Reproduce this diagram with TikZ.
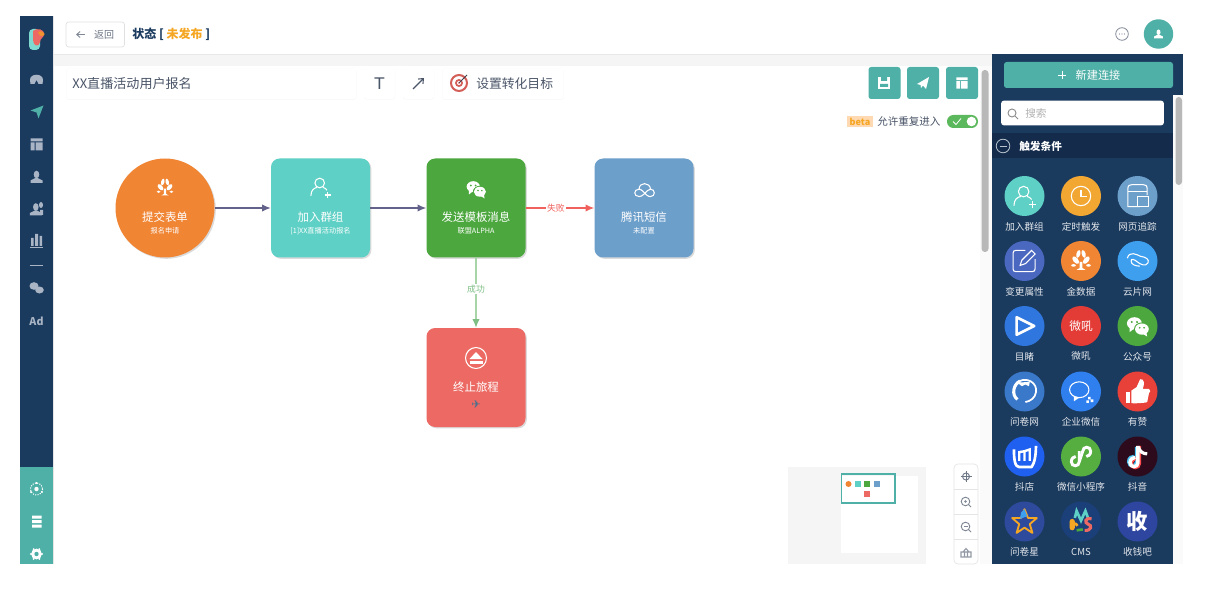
\documentclass[tikz,border=0pt]{standalone}
\usepackage{fontspec}
\setmainfont{Noto Sans CJK SC}
\newfontfamily\djv{DejaVu Sans}
\usetikzlibrary{shadows,arrows.meta,calc}
\definecolor{navy}{HTML}{1A3A5E}
\definecolor{navyd}{HTML}{142B4B}
\definecolor{tealb}{HTML}{4FB0A7}
\definecolor{navic}{HTML}{A9B5C5}
\definecolor{orangeN}{HTML}{F08534}
\definecolor{orangeT}{HTML}{F5A623}
\definecolor{tealN}{HTML}{5ED0C5}
\definecolor{greenN}{HTML}{4CA83E}
\definecolor{blueN}{HTML}{6D9FCB}
\definecolor{redN}{HTML}{EC6A63}
\definecolor{txt}{HTML}{4A5568}
\definecolor{flowc}{HTML}{62628A}
\definecolor{failc}{HTML}{F0605C}
\definecolor{okl}{HTML}{A8D5A8}
\definecolor{okc}{HTML}{7FBF85}
\definecolor{togg}{HTML}{5CB85C}
\definecolor{aB}{HTML}{F2A732}
\definecolor{aD}{HTML}{4A68C0}
\definecolor{aF}{HTML}{3F9FEF}
\definecolor{aG}{HTML}{2F76DE}
\definecolor{aH}{HTML}{E33B35}
\definecolor{aJ}{HTML}{3A78C9}
\definecolor{aK}{HTML}{2F7FEF}
\definecolor{aL}{HTML}{E8413A}
\definecolor{aM}{HTML}{1F60F0}
\definecolor{aN}{HTML}{55AE3F}
\definecolor{aO}{HTML}{2D0A1C}
\definecolor{aP}{HTML}{2E4A9C}
\definecolor{aQ}{HTML}{1B3F78}
\definecolor{aR}{HTML}{2F46A0}
\newcommand{\fs}[1]{\fontsize{#1}{#1}\selectfont}
\tikzset{
 x=0.75pt,y=-0.75pt,
 wl/.style={draw=white,line width=.8pt,fill=none},
 wf/.style={fill=white,draw=none},
 flownode/.style={minimum size=74.25pt,inner sep=0,draw=none,rounded corners=6.5pt,drop shadow={shadow xshift=1pt,shadow yshift=-1pt,opacity=.14,fill=black}},
 flowtitle/.style={text=white,font=\fs{8.6},inner sep=0},
 flowsub/.style={text=white,font=\fs{5.4},inner sep=0},
 card/.style={fill=white,draw=none,rounded corners=2pt,drop shadow={shadow xshift=0pt,shadow yshift=-.3pt,opacity=.05,fill=black}},
 tealbtn/.style={fill=tealb,draw=none,rounded corners=2pt},
 appdisc/.style={circle,minimum size=30pt,inner sep=0,draw=none},
 applabel/.style={text=white!88!navy,font=\fs{7.2},inner sep=0},
 flow/.style={line width=.9pt,-{Latex[length=6.5pt,width=5.5pt]}},
 pics/personplus/.style={code={
   \draw[wl] (-1,-5) circle (6);
   \draw[wl] (-12,11) .. controls (-12,4) and (-8,1) .. (-4,0.5);
   \draw[wl] (3,.5) .. controls (5,1) and (7,2) .. (8,4);
   \draw[wl] (5,10)--(13,10) (9,6)--(9,14);}},
 pics/tree/.style={code={
   \fill[white] (-1.5,1) -- (1.5,1) -- (1.5,8) -- (5,10) -- (-5,10) -- (-1.5,8) -- cycle;
   \fill[white,rotate around={-50:(-6,-1)}] (-6,-1) ellipse (5 and 2.8);
   \fill[white,rotate around={50:(6,-1)}] (6,-1) ellipse (5 and 2.8);
   \fill[white,rotate around={75:(-3,-8)}] (-3,-8) ellipse (4.5 and 2.2);
   \fill[white,rotate around={-75:(3,-8)}] (3,-8) ellipse (4.5 and 2.2);
   \fill[white] (-8.5,5) ellipse (2.6 and 1.5) (8.5,5) ellipse (2.6 and 1.5);}},
 pics/wechatic/.style={code={
   \fill[white] (-3.5,-3) ellipse (8.5 and 7);
   \fill[white] (-9,1) -- (-9,7) -- (-4,3) -- cycle;
   \fill[#1] (5,3.5) ellipse (9 and 7.6);
   \fill[white] (5,3.5) ellipse (7.8 and 6.4);
   \fill[white] (10,7) -- (11,12) -- (6,9) -- cycle;
   \fill[#1] (-6.5,-4.5) circle (1.3) (-.5,-4.5) circle (1.3) (2.5,2) circle (1.1) (7.5,2) circle (1.1);}},
 pics/cloudic/.style={code={
   \draw[wl] (-6,8) .. controls (-13,8) and (-13,-1) .. (-6,-1) .. controls (-3,-1) and (0,3) .. (3,6) .. controls (5,8) and (7,8) .. (8,8) .. controls (14,8) and (14,-1) .. (8,-1) .. controls (5,-1) and (3,2) .. (0,5) .. controls (-2,7) and (-4,8) .. (-6,8) -- cycle;
   \draw[wl] (-6,-1) .. controls (-6,-10) and (7,-10) .. (8,-1);}},
 pics/ejectic/.style={code={
   \draw[wl] (0,0) circle (10.5);
   \fill[white] (0,-6) -- (6.5,1) -- (-6.5,1) -- cycle;
   \fill[white] (-6.5,3) rectangle (6.5,5.5);}},
 pics/clockic/.style={code={
   \draw[wl] (0,0) circle (11);
   \draw[wl] (0,-7) -- (0,1) -- (7,1);}},
 pics/webic/.style={code={
   \draw[wl] (3,12) -- (-11,12) -- (-11,-8) .. controls (-11,-12) and (-9,-13) .. (-6,-13) -- (6,-13) .. controls (9,-13) and (11,-12) .. (11,-8) -- (11,-1);
   \draw[wl] (-11,-5) -- (11,-5);
   \draw[wl] (0,1) rectangle (12,12);}},
 pics/editic/.style={code={
   \draw[wl] (1,-12) -- (-10,-12) .. controls (-12,-12) and (-13,-11) .. (-13,-9) -- (-13,9) .. controls (-13,11) and (-12,12) .. (-10,12) -- (9,12) .. controls (11,12) and (12,11) .. (12,9) -- (12,-2);
   \draw[wl] (-5,5) -- (-3,-1) -- (8,-12) -- (12,-8) -- (1,3) -- cycle;}},
 pics/linkic/.style={code={
   \draw[wl,rotate=-15] (-12,0) .. controls (-12,-9) and (-3,-7) .. (2,-6) .. controls (8,-7) and (13,-5) .. (12,-1) .. controls (11,4) and (4,3) .. (0,1) .. controls (-4,-1) and (-8,-1) .. (-7,2) .. controls (-6,6) and (0,6) .. (4,5);}},
 pics/playic/.style={code={
   \draw[draw=white,line width=2pt,line join=round] (-9,-10) -- (11,0) -- (-9,10) -- cycle;}},
 pics/wjic/.style={code={
   \draw[draw=white,line width=2.3pt] (-5,-12) .. controls (-13,-8) and (-15,4) .. (-8,9);
   \draw[draw=white,line width=1.3pt] (-5,-12) .. controls (3,-16) and (15,-10) .. (13,1) .. controls (12,7) and (7,11) .. (1,12);
   \fill[white] (-8,-10) -- (6,-11) -- (5,-6) -- (1,-8) -- (-3,-6) -- cycle;}},
 pics/qwic/.style={code={
   \draw[wl] (-2,-2) ellipse (11 and 9);
   \fill[white] (-8,5) -- (-8,11) -- (-2,7) -- cycle;
   \fill[white] (8,6) rectangle +(3,3) (11,9) rectangle +(3,3) (6,10) rectangle +(3,3);}},
 pics/thumbic/.style={code={
   \fill[white] (-13,0) rectangle (-9,13);
   \fill[white] (-7,-1) -- (-1,-5) -- (3,-14) .. controls (8,-15) and (8,-8) .. (6,-3) -- (13,-3) .. controls (15,-2) and (15,1) .. (13,2) -- (11,12) .. controls (10,13) and (-7,14) .. (-7,13) -- cycle;}},
 pics/douic/.style={code={
   \draw[draw=white,line width=2pt,line join=round] (-12,-8) .. controls (-12,3) and (-11,12) .. (-6,12) -- (8,12) .. controls (11,8) and (13,0) .. (13,-12);
   \draw[draw=white,line width=1.8pt] (-6,5) -- (-6,-5) -- (0,-6) -- (0,5) (0,-6) -- (6,-8) -- (6,5);}},
 pics/miniic/.style={code={
   \draw[draw=white,line width=2.2pt] (-2,-6) -- (-2,6) .. controls (-2,12) and (-11,12) .. (-11,6) .. controls (-11,2) and (-8,0) .. (-6,0);
   \draw[draw=white,line width=2.2pt] (-2,6) -- (2,-6) .. controls (2,-12) and (11,-12) .. (11,-6) .. controls (11,-2) and (8,0) .. (6,0);}},
 pics/tiktok/.style={code={
   \draw[draw=cyan!70!white,line width=2.6pt] (-1,-11) -- (-1,6) .. controls (-1,12) and (-10,12) .. (-10,6) .. controls (-10,1) and (-6,0) .. (-4,0);
   \draw[draw=red!70!white,line width=2.6pt] (2,-12) -- (2,8) .. controls (2,14) and (-7,14) .. (-7,8) .. controls (-7,4) and (-3,2) .. (-1,2);
   \draw[draw=white,line width=2.6pt] (.5,-12) -- (.5,7) .. controls (.5,13) and (-8.5,13) .. (-8.5,7) .. controls (-8.5,2.5) and (-4.5,1) .. (-2.5,1);
   \draw[draw=white,line width=2.4pt] (1,-11) .. controls (2,-6) and (6,-3) .. (11,-3);}},
 pics/staric/.style={code={
   \draw[draw=orangeT,line width=1.4pt,line join=round] (0,-14) -- (4,-4) -- (14,-4) -- (6,3) -- (9,13) -- (0,7) -- (-9,13) -- (-6,3) -- (-14,-4) -- (-4,-4) -- cycle;
   \fill[aF] (-4,-10) -- (0,-14) -- (3,-6) -- (-5,-3) -- cycle;}},
 pics/cmsic/.style={code={
   \fill[orangeT,rounded corners=2pt] (-13,10) rectangle (-7,-3);
   \draw[draw=tealN,line width=2pt] (-7,-4) -- (-5,-12) -- (0,-1) -- (5,-12) -- (8,-4);
   \draw[draw=orangeT,line width=2pt] (-4,5) .. controls (-6,1) and (-9,2) .. (-9,6);
   \draw[draw=redN,line width=2.3pt] (12,-3) .. controls (4,-5) and (4,2) .. (8,3) .. controls (13,4) and (12,11) .. (4,10);
   \draw[draw=greenN,line width=2pt] (-5,10) -- (2,9);}},
 pics/navdash/.style={code={
   \fill[navic] (-6,4) -- (-6.5,0) .. controls (-6.5,-7) and (6.5,-7) .. (6.5,0) -- (6,4) -- (2,4) -- (0,0) -- (-2,4) -- cycle;}},
 pics/navplane/.style={code={
   \fill[tealb] (-6,-1) -- (7,-6) -- (2,7) -- (0,1) -- cycle;}},
 pics/navtable/.style={code={
   \fill[#1] (-6,-6) rectangle (6,-3) (-6,-2) rectangle (-2,6) (-1,-2) rectangle (6,6);}},
 pics/navperson/.style={code={
   \fill[#1] (0,-2.5) ellipse (2.8 and 3.8);
   \fill[#1] (-6,6) -- (-6,3.5) .. controls (-4,2) and (-2,2) .. (-1,1) -- (1,1) .. controls (2,2) and (4,2) .. (6,3.5) -- (6,6) -- cycle;}},
}
\newcommand{\appicon}[7]{%
 \node[appdisc,fill=#4] (#1) at (#2,#3) {};
 \pic[scale=.88] at (#2,#3) {#5};
 \node[applabel] (#1t) at (#2,#3+30.5) {#6#7};}
\begin{document}
\begin{tikzpicture}
\useasboundingbox (0,0) rectangle (1209,602);
\fill[white] (0,0) rectangle (1209,602);
% header band, canvas
\fill[black!4] (53,54) rectangle (992,66);
\draw[black!9,line width=.6pt] (53,54) -- (992,54);
\fill[black!2] (980,66) rectangle (992,564);
\fill[black!28,rounded corners=2.5pt] (981.5,70) rectangle (988.5,252);
% left navigation
\fill[navy] (20,16) rectangle (52.5,467);
\fill[tealb] (20,467) rectangle (52.5,564);
\fill[black!10] (52.5,16) rectangle (53.5,564);
\fill[tealN!80!white,rounded corners=3pt] (29,29) rectangle (40,50);
\fill[redN] (33,31) .. controls (37,27) and (45,30) .. (44,34) .. controls (44,38) and (40,38) .. (40,42) .. controls (39,48) and (33,46) .. (33,40) -- cycle;
\fill[orangeN!90!yellow] (38,32) .. controls (42,30) and (45,33) .. (44.5,35) .. controls (42,37) and (39,36) .. (38,32) -- cycle;
\pic at (36.5,80) {navdash};
\pic at (36.5,111.5) {navplane};
\pic at (36.5,144.5) {navtable=navic};
\pic at (36.5,177) {navperson=navic};
\pic[xshift=-.5pt] at (36.5,209.5) {navperson=navic};
\fill[navic] (41,205) ellipse (2 and 3) (40,210) rectangle (43,215);
\fill[navic] (31,238) rectangle (33.5,246) (35,234) rectangle (38,246) (39.5,236) rectangle (42,246);
\fill[navic] (30,247) rectangle (43,248);
\draw[navic,line width=.6pt] (30,265) -- (43,265);
\fill[navic] (34,286) ellipse (4.5 and 3.8);
\fill[navic] (39.5,290) ellipse (4.3 and 3.5);
\node[text=navic,font=\fs{8}\bfseries,inner sep=0] (navad) at (36.5,321) {Ad};
\draw[white,line width=.8pt,densely dotted] (36.5,489) circle (6);
\fill[white] (36.5,489) circle (2.2) (31,492) circle (1.2) (42,492) circle (1.2) (36.5,483) circle (1.1);
\fill[white] (32,515.5) rectangle (41.5,518.5) (32,520) rectangle (41.5,523) (32,524.5) rectangle (41.5,527.5);
\fill[white] (36.5,554) circle (5.4);
\foreach \a in {0,60,...,300}{\fill[white] (36.5,554) ++(\a:5.6) circle (1.1);}
\fill[tealb] (36.5,554) circle (2.2);
% top bar
\draw[black!12,rounded corners=2pt,fill=white,line width=.5pt] (66,22) rectangle (124.5,47);
\draw[txt!70,line width=.7pt,-{Straight Barb[length=2.6pt,width=4.5pt]}] (85,34.5) -- (76,34.5);
\node[text=txt!80,font=\fs{7.5},inner sep=0] (backt) at (104,34.5) {返回};
\node[anchor=west,font=\fs{9}\bfseries,inner sep=0,text=navy] (statet) at (132,34.5) {状态 [ \textcolor{orangeT}{未发布} ]};
\draw[txt!70,line width=.6pt] (1122,34) circle (6.3);
\fill[txt!70] (1119.5,34) circle (.6) (1122,34) circle (.6) (1124.5,34) circle (.6);
\fill[tealb] (1158.5,34) circle (14.7);
\pic[scale=.72] at (1158.5,34) {navperson=white};
% toolbar
\node[card,minimum width=217.5pt,minimum height=23.25pt,anchor=north west] (titlebox) at (66,68) {};
\node[anchor=west,text=txt,font=\fs{9.8},inner sep=0] (titlet) at (72,84) {XX直播活动用户报名};
\node[card,minimum width=23.25pt,minimum height=23.25pt] (tbtn) at (379.5,83.5) {};
\node[text=txt,font=\djv\fs{12},inner sep=0] (tglyph) at (tbtn) {T};
\node[card,minimum width=23.25pt,minimum height=23.25pt] (abtn) at (418.5,83.5) {};
\draw[txt,line width=.8pt,-{Straight Barb[length=3pt,width=5pt]}] (413,89) -- (424,78);
\node[card,minimum width=91pt,minimum height=23.25pt,anchor=north west] (goalbox) at (442,68) {};
\draw[redN!90!black,line width=1.5pt] (459,83) circle (8);
\fill[redN!90!black] (459,83) circle (4);
\fill[white] (459,83) circle (2);
\fill[redN!90!black] (459,83) circle (.9);
\draw[txt!80!black,line width=.7pt] (459,83) -- (467,75);
\node[anchor=west,text=txt,font=\fs{9.6},inner sep=0] (goalt) at (476,83.5) {设置转化目标};
\node[tealbtn,minimum size=24pt,inner sep=0] (b1) at (884.5,83) {};
\node[tealbtn,minimum size=24pt,inner sep=0] (b2) at (923,83) {};
\node[tealbtn,minimum size=24pt,inner sep=0] (b3) at (962,83) {};
\fill[white] (878,77) rectangle (890,89);
\fill[tealb] (881,77) rectangle (887,81) (880,84) rectangle (888,87);
\fill[white] (917,84) -- (929,77) -- (926,89) -- (923,85.5) -- (921,88) -- (920.5,85) -- cycle;
\pic[scale=.95] at (962,83) {navtable=white};
% beta toggle
\node[fill=orange!30!white,text=orangeT,font=\fs{6.8}\bfseries,inner sep=0,minimum width=19pt,minimum height=8.5pt] (betat) at (860,121.5) {beta};
\node[anchor=west,text=txt,font=\fs{7.9},inner sep=0] (allowt) at (877,121.5) {允许重复进入};
\fill[togg,rounded corners=4.8pt] (947,115) rectangle (978,128);
\draw[white,line width=.6pt] (953,121.5) -- (956,124.5) -- (961,118.5);
\fill[white] (971.5,121.5) circle (4.8);
% flow nodes
\node[flownode,circle,fill=orangeN] (n1) at (165,208) {};
\node[flownode,fill=tealN] (n2) at (320.5,208) {};
\node[flownode,fill=greenN] (n3) at (476,208) {};
\node[flownode,fill=blueN] (n4) at (644,208) {};
\node[flownode,fill=redN] (n5) at (476,377.5) {};
\draw[flow,draw=flowc] (n1) -- (n2);
\draw[flow,draw=flowc] (n2) -- (n3);
\draw[flow,draw=failc] (n3) -- (n4) node[pos=.44,fill=white,text=failc,font=\fs{6.6},inner sep=.6pt] (failt) {失败};
\draw[flow,draw=okl,-{Latex[length=6.5pt,width=5.5pt,color=okc]}] (n3) -- (n5) node[pos=.45,fill=white,text=okc,font=\fs{6.6},inner sep=.6pt] (okt) {成功};
\pic[scale=.75] at (165,188) {tree};
\node[flowtitle] (n1t) at (165,217) {提交表单};
\node[flowsub] (n1s) at (165,231) {报名申请};
\pic[scale=.8] at (320.5,187) {personplus};
\node[flowtitle] (n2t) at (320.5,217) {加入群组};
\node[flowsub] (n2s) at (320.5,231) {[1]XX直播活动报名};
\pic[scale=.78] at (476,189) {wechatic=greenN};
\node[flowtitle] (n3t) at (476,217) {发送模板消息};
\node[flowsub] (n3s) at (476,231) {联盟ALPHA};
\pic[scale=.82] at (644,190) {cloudic};
\node[flowtitle] (n4t) at (644,217) {腾讯短信};
\node[flowsub] (n4s) at (644,231) {未配置};
\pic at (476,358) {ejectic};
\node[flowtitle] (n5t) at (476,387) {终止旅程};
\node[text=blueN!70!black,font=\djv\fs{8.5},inner sep=0] (n5s) at (476,404) {✈};
% right panel
\fill[navy] (992,54) rectangle (1183,564);
\fill[black!2] (1173,95) rectangle (1183,564);
\fill[black!28,rounded corners=2.5pt] (1175.5,97) rectangle (1182,185);
\node[tealbtn,minimum width=126.75pt,minimum height=19.5pt,inner sep=0] (newbtn) at (1088.5,75) {};
\node[text=white,font=\fs{8.4},inner sep=0] (newt) at (1098,75) {新建连接};
\draw[white,line width=.6pt] (1058,75) -- (1066,75) (1062,71) -- (1062,79);
\node[fill=white,rounded corners=2pt,minimum width=122pt,minimum height=18.5pt,inner sep=0] (searchb) at (1082.5,113) {};
\draw[black!45,line width=.7pt] (1012,113) circle (4);
\draw[black!45,line width=.7pt] (1015,116) -- (1018,119);
\node[anchor=west,text=black!30,font=\fs{8},inner sep=0] (searcht) at (1025,113) {搜索};
\fill[navyd] (992,133) rectangle (1173,158);
\draw[white!70!navy,line width=.6pt] (1003,146) circle (6.8);
\draw[white!70!navy,line width=.6pt] (999.5,146) -- (1006.5,146);
\node[anchor=west,text=white,font=\fs{8}\bfseries,inner sep=0] (catt) at (1019,146) {触发条件};
% app grid
\appicon{a1}{1024.5}{196}{tealN}{personplus}{}{加入群组}
\appicon{a2}{1081}{196}{aB}{clockic}{}{定时触发}
\appicon{a3}{1137.5}{196}{blueN}{webic}{}{网页追踪}
\appicon{a4}{1024.5}{261}{aD}{editic}{}{变更属性}
\appicon{a5}{1081}{261}{orangeN}{tree}{}{金数据}
\appicon{a6}{1137.5}{261}{aF}{linkic}{}{云片网}
\appicon{a7}{1024.5}{326}{aG}{playic}{}{目睹}
\node[appdisc,fill=aH] (a8) at (1081,326) {};
\node[applabel,text=white,font=\fs{8.8}] (a8g) at (1081,326) {微吼};
\node[applabel] (a8t) at (1081,356) {微吼};
\appicon{a9}{1137.5}{326}{greenN}{wechatic=greenN}{}{公众号}
\appicon{a10}{1024.5}{391.5}{aJ}{wjic}{}{问卷网}
\appicon{a11}{1081}{391.5}{aK}{qwic}{}{企业微信}
\appicon{a12}{1137.5}{391.5}{aL}{thumbic}{}{有赞}
\appicon{a13}{1024.5}{456.5}{aM}{douic}{}{抖店}
\appicon{a14}{1081}{456.5}{aN}{miniic}{}{微信小程序}
\appicon{a15}{1137.5}{456.5}{aO}{tiktok}{}{抖音}
\appicon{a16}{1024.5}{521.5}{aP}{staric}{}{问卷星}
\appicon{a17}{1081}{521.5}{aQ}{cmsic}{}{CMS}
\node[appdisc,fill=aR] (a18) at (1137.5,521.5) {};
\node[text=white,font=\fs{16}\bfseries,inner sep=0] (a18g) at (1137.5,521.5) {收};
\node[applabel] (a18t) at (1137.5,552) {收钱吧};
% minimap
\fill[black!4] (788,467) rectangle (926,564);
\fill[white] (841,476) rectangle (918,553);
\draw[tealb,line width=1pt] (841.5,474) rectangle (895,503);
\fill[orangeN] (848.5,484) circle (3);
\fill[tealN] (855,481) rectangle (861,487);
\fill[greenN] (864,481) rectangle (870,487);
\fill[blueN] (874,481) rectangle (880,487);
\fill[redN] (864,491) rectangle (870,497);
\draw[black!10,fill=white,rounded corners=3pt,line width=.5pt] (954,464) -- (978,464) -- (978,564) -- (954,564) -- cycle;
\draw[black!10,line width=.5pt] (954,489) -- (978,489) (954,514) -- (978,514) (954,539) -- (978,539);
\draw[txt!80,line width=.7pt] (966,476.5) circle (3.5);
\draw[txt!80,line width=.7pt] (960.5,476.5) -- (971.5,476.5) (966,471) -- (966,482);
\draw[txt!70,line width=.7pt] (965.5,501.5) circle (4.3) (968.7,504.7) -- (971,507);
\fill[txt!70] (965.5,501.5) circle (1.4);
\draw[txt!70,line width=.7pt] (965.5,526.5) circle (4.3) (968.7,529.7) -- (971,532);
\draw[txt!70,line width=.7pt] (963.5,526.5) -- (967.5,526.5);
\draw[txt!60,line width=.8pt] (961,552) -- (971,552) -- (971,557) -- (961,557) -- cycle (963,552) -- (966,548.5) -- (969,552) (964.5,552) -- (964.5,557) (967.5,552) -- (967.5,557);
\end{tikzpicture}
\end{document}
